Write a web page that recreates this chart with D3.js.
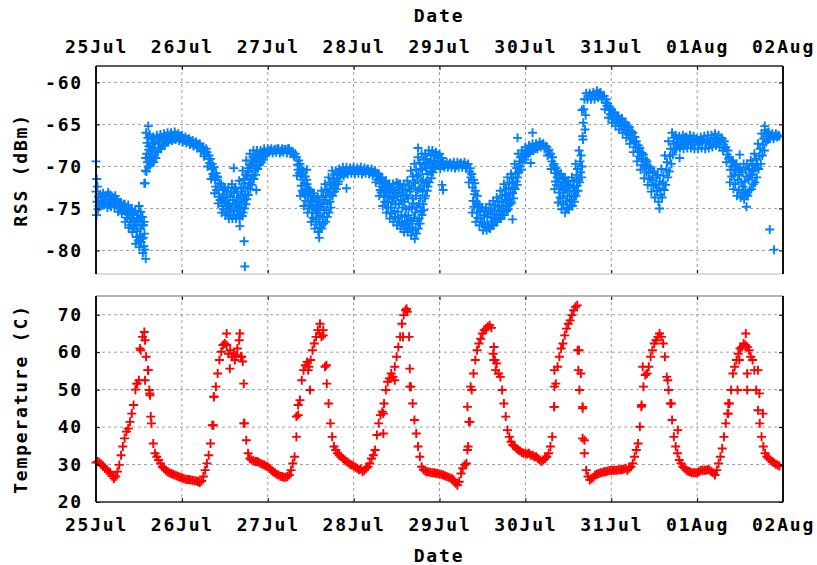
<!DOCTYPE html>
<html>
<head>
<meta charset="utf-8">
<script src="https://cdn.jsdelivr.net/npm/d3@7/dist/d3.min.js"></script>
<style>
  body { margin: 0; background: #fff; }
  text { font-family: "DejaVu Sans Mono", "Liberation Mono", monospace; font-weight: bold; font-size: 18px; letter-spacing: 1.8px; fill: #000; }
  .grid line { stroke: #a0a0a0; stroke-width: 1; stroke-dasharray: 3,3; }
</style>
</head>
<body>
<div id="chart-area"></div>
<script>
/*
*    two panel gnuplot style chart: RSS and temperature over 8 days
*/

// ---- data ----
var startDay = new Date(2014, 6, 25);
var dayLabels = ["25Jul", "26Jul", "27Jul", "28Jul", "29Jul", "30Jul", "31Jul", "01Aug", "02Aug"];
var rssTicks = [-80, -75, -70, -65, -60];
var tempTicks = [20, 30, 40, 50, 60, 70];

// RSS (dBm), one row per hour since 25Jul 00:00, several readings in each hour
var rssByHour = [
  // 25Jul
  [-73.0,-75.8,-74.2,-72.4,-75.1,-73.6,-74.7],[-74.8,-73.3,-74.1,-73.7,-74.5],[-73.2,-74.6,-73.9,-74.3,-73.5],[-73.5,-74.9,-73.1,-74.2,-74.6],
  [-73.4,-74.8,-74.0,-73.7,-74.4],[-73.8,-74.9,-73.5,-74.3,-74.6],[-74.0,-75.4,-74.6,-74.3,-75.0],[-74.3,-75.6,-74.8,-75.2,-74.5],
  [-74.5,-76.6,-75.4,-75.0,-76.1,-75.7],[-74.6,-77.3,-75.8,-76.6,-75.2,-77.0,-76.2],[-75.0,-77.8,-76.2,-77.0,-75.6,-77.4,-76.6],
  [-75.3,-79.2,-77.0,-78.4,-76.2,-77.7,-75.8,-78.8,-76.6],[-74.7,-79.6,-76.5,-78.2,-77.4,-75.4,-79.0,-76.0,-78.6,-77.0],
  [-76.0,-80.3,-78.5,-77.0,-79.5,-76.6,-78.0,-79.9,-72.0,-70.5,-69.0],[-66.0,-70.6,-68.5,-67.2,-69.5,-66.6,-70.0,-68.0,-67.6,-69.0],
  [-66.2,-69.8,-67.6,-68.8,-66.8,-69.3,-68.2,-67.2],[-66.5,-69.5,-67.8,-68.6,-67.1,-69.0,-68.2],[-66.3,-68.3,-67.3,-66.8,-67.8],
  [-66.2,-67.9,-67.0,-66.6,-67.5],[-66.1,-67.5,-66.8,-66.4,-67.1],[-66.0,-67.1,-66.5,-66.8,-66.2],[-66.0,-66.9,-66.4,-66.7],
  [-65.9,-66.8,-66.3,-66.6],[-66.1,-66.9,-66.4,-66.7],
  // 26Jul
  [-66.3,-67.1,-66.7,-66.9],[-66.5,-67.2,-66.8,-67.0],[-66.7,-67.4,-67.0,-67.2],[-66.9,-67.6,-67.2,-67.4],[-67.1,-67.8,-67.4,-67.6],
  [-67.3,-68.2,-67.7,-68.0],[-67.7,-68.8,-68.2,-68.5,-67.9],[-68.3,-70.0,-69.1,-68.7,-69.6],[-69.1,-71.5,-70.3,-69.7,-70.9,-71.2],
  [-70.1,-73.2,-71.6,-72.4,-70.8,-72.8,-71.2],[-71.3,-74.4,-72.8,-73.6,-72.0,-74.0,-72.4],[-72.1,-75.5,-73.8,-74.7,-72.8,-75.1,-73.3,-74.3],
  [-72.5,-75.8,-74.2,-75.1,-73.0,-75.5,-73.6,-74.7],[-72.5,-76.2,-74.4,-75.4,-73.5,-75.8,-73.0,-74.9],[-72.1,-76.2,-74.0,-75.3,-73.2,-75.8,-72.7,-74.6],
  [-72.5,-76.2,-74.3,-75.2,-73.0,-75.7,-73.7,-74.8],[-71.7,-76.2,-74.9,-73.5,-75.6,-72.6,-74.2,-73.0,-75.9],
  [-70.5,-75.5,-72.5,-74.0,-71.5,-75.0,-72.0,-73.3,-71.0,-74.5],[-69.3,-73.9,-71.2,-72.6,-70.2,-73.4,-70.7,-72.0,-69.8],
  [-68.5,-72.7,-70.2,-71.5,-69.3,-72.2,-69.8,-71.0,-68.9],[-68.1,-71.5,-69.5,-70.5,-68.6,-71.0,-69.0,-70.0],
  [-68.1,-70.3,-69.0,-68.6,-69.8,-69.4],[-68.1,-69.5,-68.8,-68.4,-69.2],[-67.9,-68.7,-68.3,-68.5],
  // 27Jul
  [-67.9,-68.3,-68.1],[-67.9,-68.4,-68.1],[-68.0,-68.3,-67.9],[-67.9,-68.4,-68.2],[-67.9,-68.3,-68.0],[-68.0,-68.4,-67.9],
  [-67.9,-68.5,-68.2],[-68.3,-68.8,-68.5],[-68.9,-71.1,-69.8,-70.4,-69.3,-70.8],[-69.7,-73.5,-71.0,-72.3,-70.3,-72.9,-71.6,-73.2],
  [-70.5,-74.7,-72.0,-73.4,-71.2,-74.1,-72.7,-71.6],[-72.1,-75.5,-73.5,-74.6,-72.7,-75.0,-73.0,-74.1],
  [-72.9,-76.6,-74.2,-75.5,-73.5,-76.1,-74.8,-73.2],[-73.7,-77.4,-75.0,-76.3,-74.2,-76.9,-75.6,-74.6],
  [-73.7,-77.8,-75.2,-76.6,-74.3,-77.3,-75.9,-74.8],[-72.9,-77.4,-74.5,-76.0,-73.5,-76.8,-75.2,-74.0],
  [-72.1,-76.6,-73.6,-75.2,-72.7,-76.0,-74.4,-73.1],[-71.3,-75.5,-72.7,-74.2,-71.9,-74.9,-73.4,-72.2],
  [-70.5,-73.5,-71.5,-72.6,-71.0,-73.0,-72.1],[-70.5,-72.7,-71.4,-70.9,-72.1,-71.8],[-70.3,-71.1,-70.7,-70.9],[-70.1,-71.1,-70.6,-70.8],
  [-70.1,-70.9,-70.5],[-70.2,-70.8,-70.4],
  // 28Jul
  [-70.1,-70.9,-70.5],[-70.2,-70.8,-70.4],[-70.1,-70.9,-70.6],[-70.2,-70.8,-70.4],[-70.3,-70.9,-70.6],[-70.3,-71.1,-70.7],
  [-70.5,-71.9,-71.2,-70.8,-71.6],[-70.9,-73.5,-72.0,-72.8,-71.4,-73.1,-72.4],[-71.3,-74.7,-72.5,-73.6,-71.9,-74.2,-73.0],
  [-71.7,-75.5,-73.0,-74.3,-72.3,-74.9,-73.6,-72.7],[-72.1,-76.2,-73.5,-74.9,-72.7,-75.6,-74.2,-73.1],
  [-72.1,-76.6,-73.8,-75.3,-72.8,-76.0,-74.5,-73.2],[-71.9,-77.0,-73.6,-75.4,-76.2,-72.5,-74.5,-76.6,-73.1],
  [-72.1,-77.4,-74.0,-75.8,-76.7,-72.7,-74.9,-77.0,-73.4],[-72.1,-77.8,-74.2,-76.0,-77.0,-72.8,-75.1,-77.4,-73.5,-76.5],
  [-71.7,-77.8,-73.8,-75.8,-76.9,-72.3,-74.8,-77.3,-73.0,-76.3],[-70.5,-78.2,-72.6,-75.0,-76.8,-73.8,-71.2,-77.6,-74.4,-71.9,-76.1],
  [-69.7,-78.6,-72.0,-75.5,-77.4,-73.5,-70.4,-78.0,-74.8,-71.2,-76.5,-72.8],[-68.9,-77.4,-71.0,-74.5,-76.2,-72.6,-69.6,-76.8,-73.8,-70.3,-75.3,-71.8],
  [-68.5,-75.8,-70.4,-73.0,-74.5,-71.6,-69.2,-75.2,-72.3,-69.8,-73.8],[-68.5,-73.5,-70.2,-71.8,-69.1,-72.9,-70.9,-72.4,-69.6],
  [-68.1,-71.9,-69.5,-70.6,-68.7,-71.4,-70.1],[-68.1,-70.7,-69.3,-68.7,-70.1,-69.8],[-68.3,-69.9,-69.0,-68.7,-69.5],
  // 29Jul
  [-68.5,-70.3,-69.4,-69.0,-69.8],[-69.5,-70.1,-69.8],[-69.5,-70.1,-69.8],[-69.6,-70.1,-69.8],[-69.5,-70.2,-69.9],[-69.5,-70.1,-69.7],
  [-69.6,-70.1,-69.8],[-69.5,-70.2,-69.9],[-69.7,-71.9,-70.6,-70.2,-71.3],[-70.9,-75.5,-72.5,-74.1,-71.6,-74.8,-73.3,-72.0],
  [-72.9,-76.6,-74.2,-75.5,-73.5,-76.1,-74.8],[-74.5,-77.0,-75.4,-76.2,-74.9,-76.6],[-74.9,-77.6,-75.8,-76.8,-75.3,-77.2],
  [-74.9,-77.6,-76.0,-76.9,-75.4,-77.3],[-74.5,-77.4,-75.6,-76.6,-75.0,-77.0,-76.1],[-74.1,-77.0,-75.2,-76.2,-74.6,-76.6,-75.7],
  [-73.7,-76.6,-74.8,-75.8,-74.2,-76.2,-75.3],[-72.9,-76.2,-74.2,-75.3,-73.5,-75.8,-74.7],[-72.1,-75.8,-73.4,-74.7,-72.7,-75.3,-74.0],
  [-71.3,-75.1,-72.6,-73.9,-71.9,-74.5,-73.2],[-70.9,-74.3,-72.0,-73.2,-71.4,-73.8,-72.6],[-69.7,-72.7,-70.8,-71.8,-70.2,-72.2,-71.3],
  [-68.5,-70.7,-69.4,-70.0,-68.9,-70.4],[-68.1,-69.5,-68.8,-68.5,-69.2],
  // 30Jul
  [-67.7,-68.7,-68.2,-68.0,-68.5],[-67.5,-68.3,-67.9,-68.1],[-67.3,-68.1,-67.7,-67.9],[-67.3,-67.9,-67.6],[-67.1,-67.7,-67.4],
  [-67.3,-67.9,-67.6],[-67.7,-68.7,-68.2,-68.0,-68.5],[-68.5,-70.3,-69.4,-68.9,-69.9],[-69.7,-72.7,-70.8,-71.8,-70.2,-72.2,-71.3],
  [-70.5,-74.3,-71.8,-73.1,-71.0,-73.7,-72.4],[-70.9,-75.1,-72.4,-73.8,-71.5,-74.5,-73.1,-72.0],[-71.3,-75.5,-72.7,-74.2,-71.9,-74.9,-73.5,-72.3],
  [-71.7,-75.1,-72.9,-74.0,-72.2,-74.6,-73.5],[-71.3,-74.7,-72.5,-73.6,-71.8,-74.2,-73.0],[-69.7,-73.5,-71.0,-72.3,-70.3,-72.9,-71.6],
  [-68.1,-71.9,-69.4,-70.7,-68.7,-71.3,-70.0],[-66.4,-64.8,-63.2,-62.0,-65.6,-63.9],[-61.3,-62.0,-61.6],[-61.3,-62.0,-61.6],
  [-61.2,-62.0,-61.5],[-61.0,-61.8,-61.3],[-61.2,-62.0,-61.6],[-61.6,-63.2,-62.4,-62.0,-62.8],[-62.5,-64.2,-63.3,-62.9,-63.8],
  // 31Jul
  [-63.2,-64.8,-64.0,-63.6,-64.4],[-63.6,-65.2,-64.4,-64.0,-64.8],[-64.0,-65.6,-64.8,-64.4,-65.2],[-64.3,-66.0,-65.1,-64.7,-65.6],
  [-64.8,-66.6,-65.7,-65.2,-66.2],[-65.3,-67.3,-66.3,-65.8,-66.8],[-66.0,-68.3,-67.1,-66.5,-67.7],[-67.0,-69.4,-68.2,-67.5,-68.8],
  [-67.8,-70.4,-69.1,-68.4,-69.8],[-68.6,-71.4,-70.0,-69.2,-70.7],[-69.4,-72.2,-70.8,-70.0,-71.5],[-70.2,-73.0,-71.6,-70.8,-72.3],
  [-70.6,-73.7,-72.1,-71.3,-72.9],[-71.0,-74.2,-72.6,-71.8,-73.4],[-70.3,-73.7,-72.0,-71.1,-72.8],[-68.7,-72.2,-70.4,-69.5,-71.3],
  [-67.0,-70.6,-68.8,-67.9,-69.7],[-66.0,-68.6,-67.3,-66.6,-68.0],[-66.3,-67.9,-67.1,-66.7,-67.5],[-66.4,-67.8,-67.1,-66.7,-67.5],
  [-66.3,-67.9,-67.0,-66.6,-67.4],[-66.5,-67.8,-67.2,-66.8],[-66.3,-67.8,-67.0,-67.4],[-66.4,-67.9,-67.1,-66.7],
  // 01Aug
  [-66.7,-67.9,-67.3,-67.0],[-66.5,-67.8,-67.1,-66.8],[-66.4,-67.9,-67.2,-66.8],[-66.3,-67.8,-67.0,-67.4],[-66.3,-67.7,-67.0,-66.6],
  [-66.1,-67.5,-66.8,-67.2],[-66.3,-67.7,-67.0,-66.6],[-66.7,-68.1,-67.4,-67.0,-67.8],[-67.7,-69.5,-68.6,-68.1,-69.1],
  [-68.9,-71.9,-70.4,-69.5,-71.2,-70.0],[-69.3,-72.7,-71.0,-69.9,-72.1,-70.5],[-69.7,-73.5,-71.6,-70.3,-72.8,-71.0],
  [-70.1,-73.7,-71.9,-70.7,-73.1,-72.4],[-69.7,-73.9,-71.8,-72.9,-70.4,-73.3,-71.2],[-69.7,-73.5,-71.6,-70.3,-72.8,-71.0],
  [-69.3,-72.7,-71.0,-69.9,-72.1,-70.5],[-68.5,-71.9,-70.2,-69.1,-71.3,-69.7],[-67.3,-70.3,-68.8,-67.9,-69.7],
  [-66.1,-68.7,-67.4,-66.7,-68.1],[-65.7,-67.1,-66.4,-66.0,-66.8],[-65.9,-66.7,-66.3],[-66.1,-66.7,-66.4],[-66.1,-66.5,-66.3],[-66.4]
];

// isolated RSS readings: [hour, dBm]
var rssExtra = [
  [0.0,-69.4],[0.2,-71.5],[13.5,-72.0],[13.9,-81.0],[14.6,-65.2],[38.5,-70.2],[40.2,-77.1],[41.4,-78.9],[41.6,-81.9],
  [44.8,-72.8],[58.9,-70.4],[62.4,-78.5],[70.0,-72.6],[84.5,-72.1],[90.0,-67.8],[96.7,-72.2],[97.0,-72.8],
  [116.4,-76.3],[117.8,-66.6],[121.5,-69.6],[122.0,-66.0],[135.8,-63.3],[136.1,-66.8],[157.5,-75.0],[163.1,-69.0],
  [179.9,-68.6],[181.8,-74.8],[186.9,-65.2],[188.3,-77.5],[189.5,-79.9]
];

// temperature (C), every half hour since 25Jul 00:00
var tempHalfHour = [
  30.5,30.8,30.5,30.1,29.6,29.0,28.5,28.1,27.8,26.9,26.3,26.8,28.1,29.9,32.5,34.8,37.0,38.8,39.6,41.4,43.6,45.9,50.0,51.6,
  52.5,60.5,64.1,65.4,58.8,55.2,49.0,41.0,35.6,33.0,32.1,31.2,30.3,29.4,29.0,28.5,28.1,27.8,27.6,27.4,27.2,27.0,26.8,26.6,
  26.5,26.3,26.1,26.0,26.0,25.9,25.8,25.7,25.6,25.5,25.2,25.6,26.8,28.5,30.3,32.5,35.6,40.5,48.1,50.8,54.3,57.9,60.1,61.9,
  62.3,61.9,59.6,60.5,58.8,59.6,59.2,61.0,63.2,58.8,57.5,41.0,36.5,33.0,31.6,31.2,31.0,30.8,30.8,30.6,30.3,30.1,29.9,29.6,
  29.4,29.0,28.5,28.1,27.8,27.4,27.2,26.9,26.8,26.6,26.6,26.8,27.2,28.5,30.3,32.1,37.4,43.2,47.2,52.5,55.2,56.5,57.4,56.1,
  57.9,60.5,62.3,64.1,65.9,65.0,64.1,64.5,56.1,51.6,46.3,41.0,37.4,34.8,33.9,33.0,32.5,32.1,31.6,31.2,30.8,30.5,30.1,29.9,
  29.6,29.3,29.0,28.6,28.8,28.1,28.5,29.0,29.4,30.3,31.6,32.5,33.9,37.9,41.0,43.2,44.1,46.3,49.9,52.1,53.0,54.3,53.4,56.1,
  58.8,61.4,64.1,67.6,69.9,71.2,70.8,64.1,50.8,46.3,41.9,38.3,34.8,32.1,29.4,28.6,28.3,28.1,28.0,27.9,27.8,27.8,27.7,27.6,
  27.5,27.4,27.2,27.0,26.8,26.6,26.4,26.2,25.9,25.0,24.5,25.4,27.6,29.0,29.9,30.3,34.8,41.4,49.9,54.3,57.9,60.5,62.3,63.6,
  65.0,65.9,66.3,66.8,67.2,66.5,59.6,57.9,57.0,54.3,53.4,49.9,46.3,42.8,39.2,37.4,36.1,35.2,34.8,34.3,33.9,33.6,33.2,33.0,
  33.0,32.8,33.0,32.5,32.5,32.1,32.1,31.6,31.2,30.8,31.2,31.6,32.1,33.0,34.8,37.4,45.4,51.6,56.1,58.8,61.0,62.3,64.5,66.3,
  67.6,68.5,69.9,71.2,72.1,72.5,60.5,54.3,45.4,36.5,28.5,26.8,25.9,26.3,26.6,27.2,27.4,27.6,27.8,27.9,28.1,28.1,28.3,28.4,
  28.4,28.5,28.5,28.5,28.6,28.6,28.7,28.8,29.0,28.5,29.0,29.4,30.3,32.1,33.9,35.6,40.1,45.9,50.8,53.9,54.3,56.1,58.8,60.5,
  62.3,63.2,64.1,65.0,64.1,62.3,58.8,53.4,49.9,46.3,41.9,37.4,34.8,33.0,31.2,30.3,29.4,29.0,28.5,28.2,28.1,27.8,27.8,27.8,
  27.8,28.1,28.5,28.5,28.5,28.5,28.7,28.5,28.1,27.8,27.2,28.5,30.3,32.1,34.3,37.4,41.0,43.6,46.3,49.9,54.3,56.1,57.9,59.6,
  61.0,61.4,62.3,61.9,61.4,60.5,58.8,57.9,55.2,49.9,44.5,41.0,37.4,34.8,33.0,32.1,31.6,31.2,30.8,30.5,30.1,29.9,29.6
];

// isolated temperature readings: [hour, C]
var tempExtra = [
  [11.4,51.6],[12.3,61.0],[13.7,63.2],[13.7,52.5],[14.6,55.2],[14.9,49.9],[15.1,48.5],[15.3,42.8],
  [32.8,40.5],[32.9,48.1],[36.5,65.0],[37.4,55.6],[38.8,57.9],[40.2,65.0],[40.7,58.8],[41.3,51.6],[41.3,41.0],
  [56.0,42.8],[56.5,45.9],[59.3,55.2],[59.8,49.9],[62.6,67.6],[63.5,65.9],[64.4,56.5],
  [80.3,38.3],[80.3,43.6],[83.5,52.5],[85.8,64.1],[86.8,71.6],[87.7,55.6],[87.7,50.8],
  [103.8,33.9],[103.8,45.4],[104.2,41.4],[104.7,50.8],[111.2,61.4],[111.2,57.9],[111.7,55.2],
  [128.1,45.4],[128.1,50.8],[128.1,55.2],[134.6,60.5],[134.8,55.2],[135.1,49.9],[136.0,45.0],[136.0,37.0],[136.5,33.0],
  [152.4,45.4],[152.8,56.1],[159.8,52.5],[160.8,46.3],[162.6,39.2],
  [176.7,46.3],[176.7,43.6],[179.3,49.9],[179.8,57.9],[181.6,65.0],[182.0,54.3],[182.0,49.9],[185.0,55.2],[185.4,49.0],[186.4,43.6]
];

// ---- layout ----
var left = 96, right = 783;
var rssTop = 66, rssBottom = 274;
var tempTop = 296, tempBottom = 502;

var svg = d3.select("#chart-area").append("svg")
  .attr("width", 817)
  .attr("height", 565)
  .style("background-color", "white");

var atHour = (h) => new Date(startDay.getTime() + h * 3600000);
var days = d3.timeDay.range(startDay, d3.timeDay.offset(startDay, 9));

var x = d3.scaleTime()
  .domain([startDay, d3.timeDay.offset(startDay, 8)])
  .range([left, right]);

var yRss = d3.scaleLinear()
  .domain([-82.8, -58.05])
  .range([rssBottom, rssTop]);

var yTemp = d3.scaleLinear()
  .domain([20, 75])
  .range([tempBottom, tempTop]);

// flatten readings into points
var rssPoints = [];
rssByHour.forEach((row, h) => {
  row.forEach((v, i) => rssPoints.push({ t: atHour(h + i / row.length), v: v }));
});
rssExtra.forEach((d) => rssPoints.push({ t: atHour(d[0]), v: d[1] }));

var tempPoints = tempHalfHour.map((v, i) => ({ t: atHour(i / 2), v: v }));
tempExtra.forEach((d) => tempPoints.push({ t: atHour(d[0]), v: d[1] }));

// ---- grids ----
function grid(yScale, ticks, top, bottom) {
  var g = svg.append("g").attr("class", "grid");
  g.selectAll("line.gx").data(days.slice(1, -1)).enter().append("line")
    .attr("class", "gx")
    .attr("x1", (d) => x(d)).attr("x2", (d) => x(d))
    .attr("y1", top).attr("y2", bottom);
  g.selectAll("line.gy").data(ticks.filter((d) => yScale(d) > top + 1 && yScale(d) < bottom - 1)).enter().append("line")
    .attr("class", "gy")
    .attr("x1", left).attr("x2", right)
    .attr("y1", (d) => yScale(d)).attr("y2", (d) => yScale(d));
}
grid(yRss, rssTicks, rssTop, rssBottom);
grid(yTemp, tempTicks, tempTop, tempBottom);

// ---- points ----
var plus = "M-4.5,0H4.5M0,-4.5V4.5";

svg.append("g").selectAll("path").data(rssPoints).enter().append("path")
  .attr("d", plus)
  .attr("transform", (d) => "translate(" + x(d.t) + "," + yRss(d.v) + ")")
  .attr("fill", "none")
  .attr("stroke", "#0080ff")
  .attr("stroke-width", 1.9);

svg.append("g").selectAll("path").data(tempPoints).enter().append("path")
  .attr("d", plus)
  .attr("transform", (d) => "translate(" + x(d.t) + "," + yTemp(d.v) + ")")
  .attr("fill", "none")
  .attr("stroke", "#ff0000")
  .attr("stroke-width", 1.9);

// ---- axes ----
var dayFormat = (d, i) => dayLabels[i];
var blank = () => "";

function addAxis(axis, tx, ty) {
  var g = svg.append("g").attr("transform", "translate(" + tx + "," + ty + ")").call(axis);
  g.select(".domain").remove();
  g.selectAll(".tick line").attr("stroke", "#000").attr("stroke-width", 1);
  return g;
}

// top panel
addAxis(d3.axisTop(x).tickValues(days).tickFormat(dayFormat).tickSizeInner(-4).tickSizeOuter(0).tickPadding(13), 0, rssTop);
addAxis(d3.axisBottom(x).tickValues(days).tickFormat(blank).tickSizeInner(-4).tickSizeOuter(0), 0, rssBottom);
addAxis(d3.axisLeft(yRss).tickValues(rssTicks).tickFormat((d) => String(d)).tickSizeInner(-4).tickSizeOuter(0).tickPadding(13), left, 0);
addAxis(d3.axisRight(yRss).tickValues(rssTicks).tickFormat(blank).tickSizeInner(-4).tickSizeOuter(0), right, 0);

// bottom panel
addAxis(d3.axisBottom(x).tickValues(days).tickFormat(dayFormat).tickSizeInner(-4).tickSizeOuter(0).tickPadding(16), 0, tempBottom);
addAxis(d3.axisTop(x).tickValues(days).tickFormat(blank).tickSizeInner(-4).tickSizeOuter(0), 0, tempTop);
addAxis(d3.axisLeft(yTemp).tickValues(tempTicks).tickFormat((d) => String(d)).tickSizeInner(-4).tickSizeOuter(0).tickPadding(13), left, 0);
addAxis(d3.axisRight(yTemp).tickValues(tempTicks).tickFormat(blank).tickSizeInner(-4).tickSizeOuter(0), right, 0);

// borders
function border(top, bottom, bottomColor, topColor) {
  svg.append("line").attr("x1", left).attr("x2", right).attr("y1", top).attr("y2", top)
    .attr("stroke", topColor).attr("stroke-width", 1.5);
  svg.append("line").attr("x1", left).attr("x2", right).attr("y1", bottom).attr("y2", bottom)
    .attr("stroke", bottomColor).attr("stroke-width", 1.5);
  svg.append("line").attr("x1", left).attr("x2", left).attr("y1", top).attr("y2", bottom)
    .attr("stroke", "#111").attr("stroke-width", 2);
  svg.append("line").attr("x1", right).attr("x2", right).attr("y1", top).attr("y2", bottom)
    .attr("stroke", "#111").attr("stroke-width", 2);
}
border(rssTop, rssBottom, "#d0d0d0", "#222");
border(tempTop, tempBottom, "#222", "#9a9a9a");

// ---- titles ----
svg.append("text").attr("x", 439).attr("y", 22).attr("text-anchor", "middle").text("Date");
svg.append("text").attr("x", 439).attr("y", 562).attr("text-anchor", "middle").text("Date");
svg.append("text").attr("transform", "translate(27," + (rssTop + rssBottom) / 2 + ") rotate(-90)")
  .attr("text-anchor", "middle").text("RSS (dBm)");
svg.append("text").attr("transform", "translate(27," + (tempTop + tempBottom) / 2 + ") rotate(-90)")
  .attr("text-anchor", "middle").text("Temperature (C)");
</script>
</body>
</html>
